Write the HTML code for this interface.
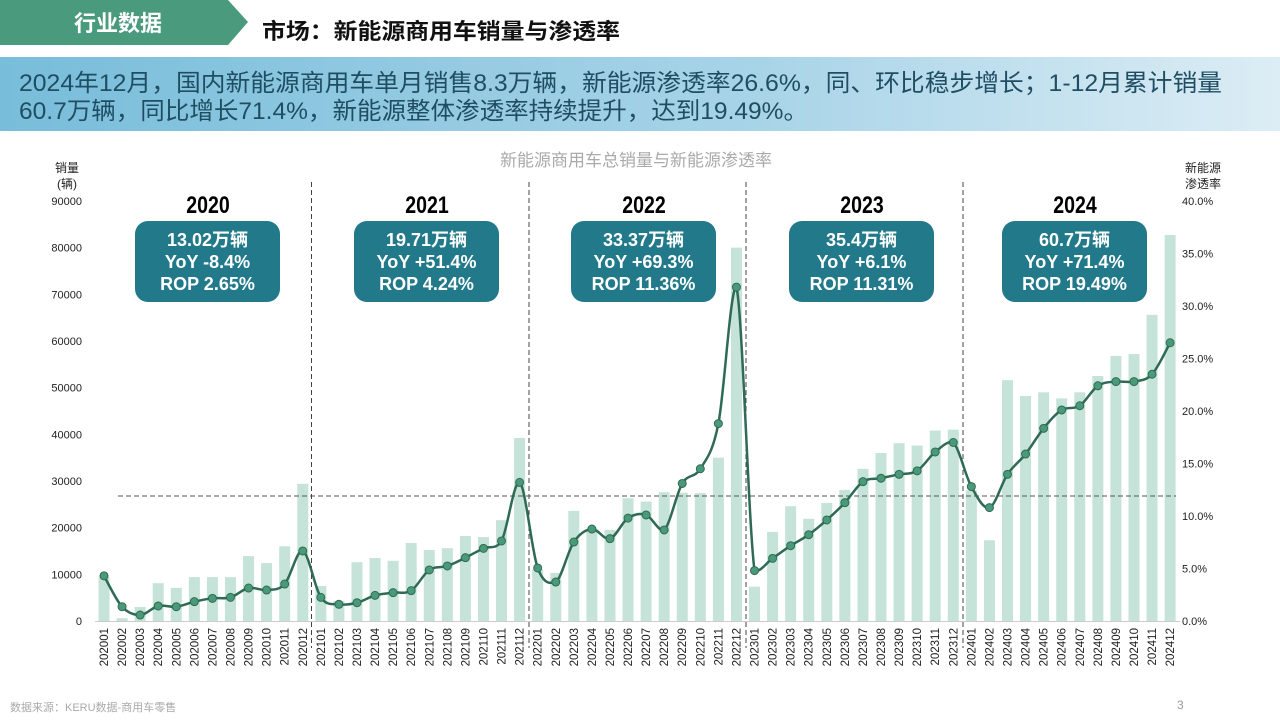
<!DOCTYPE html>
<html><head><meta charset="utf-8"><style>
body{margin:0;width:1280px;height:720px;overflow:hidden;background:#fff;font-family:"Liberation Sans","Noto Sans CJK SC",sans-serif;}
</style></head><body>
<svg id="s" width="1280" height="720" xmlns="http://www.w3.org/2000/svg" style="position:absolute;left:0;top:0">
<defs><linearGradient id="g" x1="0" x2="1" y1="0" y2="0"><stop offset="0" stop-color="#78bdda"/><stop offset="0.6" stop-color="#a9d4e8"/><stop offset="1" stop-color="#dcedf5"/></linearGradient></defs>
<polygon points="0,0 228,0 248,22 228,45 0,45" fill="#4a9a7e"/>
<text x="118" y="31" fill="#fff" font-size="22" font-weight="bold" text-anchor="middle" font-family="Liberation Sans,Noto Sans CJK SC,sans-serif">行业数据</text>
<text x="262" y="39" fill="#111" font-size="22" font-weight="bold" textLength="358" lengthAdjust="spacingAndGlyphs" font-family="Liberation Sans,Noto Sans CJK SC,sans-serif">市场：新能源商用车销量与渗透率</text>
<rect x="0" y="57" width="1280" height="74" fill="url(#g)"/>
<text x="19" y="91" fill="#1f4e63" font-size="24" textLength="1203" lengthAdjust="spacingAndGlyphs" font-family="Liberation Sans,Noto Sans CJK SC,sans-serif">2024年12月，国内新能源商用车单月销售8.3万辆，新能源渗透率26.6%，同、环比稳步增长；1-12月累计销量</text>
<text x="19" y="119" fill="#1f4e63" font-size="24" textLength="789" lengthAdjust="spacingAndGlyphs" font-family="Liberation Sans,Noto Sans CJK SC,sans-serif">60.7万辆，同比增长71.4%，新能源整体渗透率持续提升，达到19.49%。</text>
<text x="636" y="166" fill="#aaa" font-size="17" text-anchor="middle" font-family="Liberation Sans,Noto Sans CJK SC,sans-serif">新能源商用车总销量与新能源渗透率</text>
<text x="67" y="172" fill="#222" font-size="12" text-anchor="middle" font-family="Liberation Sans,Noto Sans CJK SC,sans-serif">销量</text>
<text x="67" y="188" fill="#222" font-size="12" text-anchor="middle" font-family="Liberation Sans,Noto Sans CJK SC,sans-serif">(辆)</text>
<text x="1203" y="172" fill="#222" font-size="12" text-anchor="middle" font-family="Liberation Sans,Noto Sans CJK SC,sans-serif">新能源</text>
<text x="1203" y="188" fill="#222" font-size="12" text-anchor="middle" font-family="Liberation Sans,Noto Sans CJK SC,sans-serif">渗透率</text>
<g id="c"></g>
<text x="10" y="711" fill="#aaa" font-size="11" font-family="Liberation Sans,Noto Sans CJK SC,sans-serif">数据来源：KERU数据-商用车零售</text>
<text x="1177" y="709" fill="#999" font-size="12" font-family="Liberation Sans,sans-serif">3</text>
</svg>
<script>
var bars=[9.4,0.6,3,8.1,7.1,9.4,9.4,9.4,13.9,12.4,16,29.4,
7.5,4.3,12.6,13.5,12.9,16.7,15.2,15.6,18.2,18,21.6,39.2,
11,10.3,23.6,19.5,19.5,26.3,25.6,27.6,27.5,27.4,35,80,
7.35,19.1,24.6,21.9,25.3,28.1,32.6,36,38.1,37.6,40.8,41,
28,17.3,51.6,48.2,49,47.7,49,52.5,56.8,57.2,65.6,82.7];
var pct=[4.3,1.36,0.57,1.43,1.36,1.84,2.16,2.25,3.14,2.95,3.52,6.67,
2.25,1.59,1.74,2.44,2.7,2.89,4.86,5.24,6.03,6.92,7.62,13.2,
5.05,3.71,7.52,8.76,7.84,9.8,10.1,8.67,13.1,14.5,18.8,31.8,
4.8,5.97,7.17,8.22,9.62,11.27,13.27,13.6,13.97,14.3,16.1,17.0,
12.8,10.8,13.97,15.9,18.35,20.1,20.5,22.4,22.8,22.8,23.5,26.5];
var h='',F='font-family="Liberation Sans,Noto Sans CJK SC,sans-serif"';
function X(i){return 104+i*18.07;}
for(var k=0;k<=9;k++){var y=621-k*46.67;h+='<text x="82" y="'+(y+4)+'" font-size="11" fill="#222" text-anchor="end" '+F+'>'+(k*10000)+'</text>';}
for(var k=0;k<=8;k++){var y=621-k*52.5;h+='<text x="1182" y="'+(y+4)+'" font-size="11" fill="#222" '+F+'>'+(k*5).toFixed(1)+'%</text>';}
for(var i=0;i<60;i++){var bh=bars[i]*4.667;h+='<rect x="'+(X(i)-5.5)+'" y="'+(621-bh)+'" width="11" height="'+bh+'" fill="#c5e3d8"/>';
var lab=(2020+Math.floor(i/12))+String(i%12+1).padStart(2,'0');
h+='<text transform="translate('+(X(i)+4)+',628) rotate(-90)" font-size="11.5" fill="#222" text-anchor="end" '+F+'>'+lab+'</text>';}
h+='<line x1="95" y1="621.5" x2="1180" y2="621.5" stroke="#ccc"/>';
h+='<line x1="118" y1="496" x2="1176" y2="496" stroke="#555" stroke-dasharray="5,3"/>';
[311.5,529,746,963].forEach(function(x){h+='<line x1="'+x+'" y1="182" x2="'+x+'" y2="648" stroke="#444" stroke-dasharray="5,3"/>';});
var P=pct.map(function(v,i){return [X(i),621-v*10.5];});
var d='M'+P[0][0]+','+P[0][1];
function cl(v,a,b){var lo=Math.min(a,b),hi=Math.max(a,b);return Math.max(lo-2,Math.min(hi+2,v));}
for(var i=0;i<59;i++){var p0=P[Math.max(0,i-1)],p1=P[i],p2=P[i+1],p3=P[Math.min(59,i+2)],t=6;
var c1y=cl(p1[1]+(p2[1]-p0[1])/t,p1[1],p2[1]),c2y=cl(p2[1]-(p3[1]-p1[1])/t,p1[1],p2[1]);
d+=' C'+(p1[0]+(p2[0]-p0[0])/t)+','+c1y+' '+(p2[0]-(p3[0]-p1[0])/t)+','+c2y+' '+p2[0]+','+p2[1];}
h+='<path d="'+d+'" fill="none" stroke="#2f6a55" stroke-width="2.5"/>';
P.forEach(function(p){h+='<circle cx="'+p[0]+'" cy="'+p[1]+'" r="4" fill="#4a9a7a" stroke="#2f6a55" stroke-width="1"/>';});
var yrs=[[207,2020,135,"13.02万辆","YoY -8.4%","ROP 2.65%"],[427,2021,354,"19.71万辆","YoY +51.4%","ROP 4.24%"],[637,2022,571,"33.37万辆","YoY +69.3%","ROP 11.36%"],[855,2023,789,"35.4万辆","YoY +6.1%","ROP 11.31%"],[1072,2024,1002,"60.7万辆","YoY +71.4%","ROP 19.49%"]];
yrs.forEach(function(a){
h+='<text x="'+(a[2]+73)+'" y="213" font-size="23" font-weight="bold" fill="#000" text-anchor="middle" font-family="Liberation Sans Narrow,Liberation Sans,sans-serif" transform="translate('+(a[2]+73)+',0) scale(0.85,1.05) translate('+(-(a[2]+73))+',-10)">'+a[1]+'</text>';
h+='<rect x="'+a[2]+'" y="221" width="145" height="81" rx="13" fill="#21798a"/>';
h+='<text x="'+(a[2]+72.5)+'" y="246" font-size="18" font-weight="bold" fill="#fff" text-anchor="middle" '+F+'>'+a[3]+'</text>';
h+='<text x="'+(a[2]+72.5)+'" y="268" font-size="18" font-weight="bold" fill="#fff" text-anchor="middle" '+F+'>'+a[4]+'</text>';
h+='<text x="'+(a[2]+72.5)+'" y="290" font-size="18" font-weight="bold" fill="#fff" text-anchor="middle" '+F+'>'+a[5]+'</text>';});
document.getElementById('c').innerHTML=h;
</script>
</body></html>
